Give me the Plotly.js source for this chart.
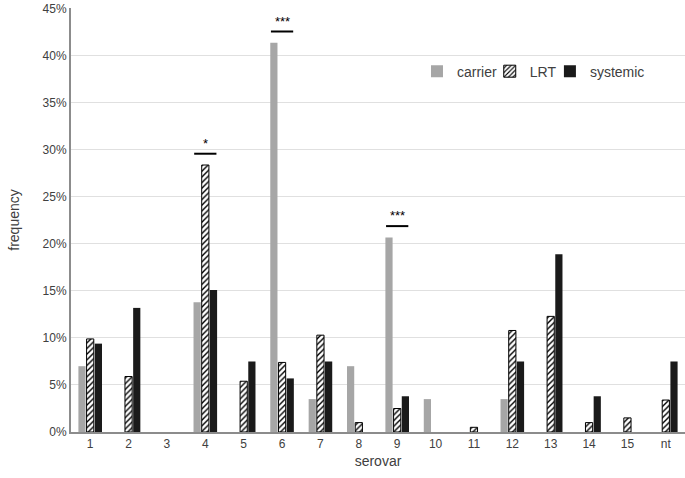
<!DOCTYPE html>
<html>
<head>
<meta charset="utf-8">
<script src="https://cdn.plot.ly/plotly-3.0.1.min.js"></script>
<style>html,body{margin:0;padding:0;background:#fff;}#chart{width:685px;height:478px;}</style>
</head>
<body>
<div id="chart"></div>
<script>
const categories = ['1','2','3','4','5','6','7','8','9','10','11','12','13','14','15','nt'];
const carrier  = [7.0, null, null, 13.8, null, 41.4, 3.5, 7.0, 20.7, 3.5, null, 3.5, null, null, null, null];
const lrt      = [9.9, 5.9, null, 28.4, 5.4, 7.4, 10.3, 1.0, 2.5, null, 0.5, 10.8, 12.3, 1.0, 1.5, 3.4];
const systemic = [9.4, 13.2, null, 15.1, 7.5, 5.7, 7.5, null, 3.8, null, null, 7.5, 18.9, 3.8, null, 7.5];
const sigCats = ['4', '6', '9'];
const sigLabels = ['*', '***', '***'];
const yTicks = [0,5,10,15,20,25,30,35,40,45];

const font = 'Liberation Sans, Arial, sans-serif';
const traces = [
  {type:'bar', name:'carrier', x:categories, y:carrier, legend:'legend',
   marker:{color:'#a6a6a6', line:{width:0}}},
  {type:'bar', name:'LRT', x:categories, y:lrt, legend:'legend2',
   marker:{color:'white', line:{color:'#000', width:1},
           pattern:{shape:'/', fgcolor:'#000', bgcolor:'#fff', size:4, solidity:0.35}}},
  {type:'bar', name:'systemic', x:categories, y:systemic, legend:'legend3',
   marker:{color:'#1a1a1a', line:{width:0}}}
];

const shapes = [], annotations = [];
sigCats.forEach((c, i) => {
  const idx = categories.indexOf(c);
  const top = Math.max(carrier[idx] || 0, lrt[idx] || 0, systemic[idx] || 0);
  const yl = top + 1.2;
  shapes.push({type:'line', xref:'x', yref:'y', x0: idx-0.29, x1: idx+0.29, y0: yl, y1: yl,
               line:{color:'#000', width:2}});
  annotations.push({xref:'x', yref:'y', x: idx, y: yl, text: sigLabels[i], showarrow:false,
                    yanchor:'bottom', yshift:1, font:{family:font, size:13, color:'#000'}});
});

function leg(x) {
  return {orientation:'h', x:x, y:0.85, xanchor:'left', yanchor:'middle',
          font:{family:font, size:14, color:'#404040'}, bgcolor:'rgba(0,0,0,0)', itemwidth:30};
}

const layout = {
  width:685, height:478,
  margin:{l:71, r:0, t:8, b:46, autoexpand:false},
  paper_bgcolor:'#fff', plot_bgcolor:'#fff',
  font:{family:font, size:12, color:'#404040'},
  barmode:'group', bargap:0.36, bargroupgap:0.12,
  showlegend:true,
  legend:leg(0.5635), legend2:leg(0.682), legend3:leg(0.780),
  xaxis:{type:'category', showgrid:false, showline:true, linecolor:'#8c8c8c', linewidth:2,
         ticks:'', tickfont:{family:font, size:12, color:'#404040'},
         title:{text:'serovar', font:{family:font, size:14, color:'#404040'}, standoff:6}},
  yaxis:{range:[0,45.1], tickvals:yTicks, ticktext:yTicks.map(v=>v+'%'), showgrid:true, gridcolor:'#e0e0e0', gridwidth:1,
         showline:true, linecolor:'#8c8c8c', linewidth:2, ticks:'', zeroline:false,
         tickfont:{family:font, size:12, color:'#404040'},
         title:{text:'frequency', font:{family:font, size:14, color:'#404040'}, standoff:20}},
  shapes:shapes, annotations:annotations
};
Plotly.newPlot('chart', traces, layout, {displayModeBar:false, staticPlot:true});
</script>
</body>
</html>
